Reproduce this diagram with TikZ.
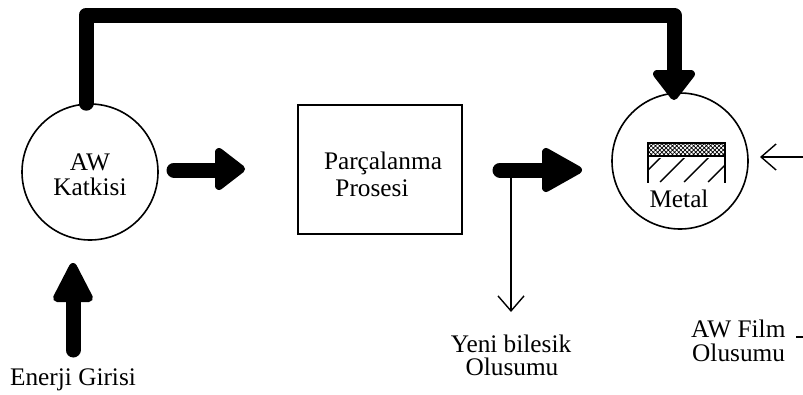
\documentclass[tikz,border=0pt]{standalone}
\usepackage{fontspec}
\setmainfont{Liberation Serif}
\usetikzlibrary{arrows.meta,patterns.meta,calc}
\begin{document}
\begin{tikzpicture}[x=1pt,y=-1pt,
  txt/.style={font=\fontsize{25.3pt}{30pt}\selectfont, inner sep=0pt, anchor=base},
  ring/.style={circle, draw, line width=1.6pt, minimum size=136pt, inner sep=0pt},
  procbox/.style={draw, line width=1.6pt, minimum width=164pt, minimum height=129pt, inner sep=0pt},
  shaft/.style={line width=15pt, line cap=round, line join=round},
  headtip/.style={fill=black, draw=black, line width=8pt, line join=round},
  thinline/.style={line width=1.4pt},
  barb/.style={-{Straight Barb[length=15pt,width=26pt]}}]
\useasboundingbox[fill=white] (0,0) rectangle (803,394);

% main shapes
\node[ring] (aw) at (90,172) {};
\node[ring] (metal) at (680,161) {};
\node[procbox] (proc) at (380,169.5) {};

% texts
\node[txt] (t1) at (90,170) {AW};
\node[txt] (t2) at (90,195) {Katkisi};
\node[txt] (t3) at (383,169) {Parçalanma};
\node[txt] (t4) at (372,196) {Prosesi};
\node[txt] (t5) at (679,207) {Metal};
\node[txt] (t6) at (511,352) {Yeni bilesik};
\node[txt] (t7) at (512,375) {Olusumu};
\node[txt, anchor=base west] (t8) at (691,337) {AW Film};
\node[txt, anchor=base west] (t9) at (692,361) {Olusumu};
\node[txt] (t10) at (73,385) {Enerji Girisi};

% top feedback connector
\coordinate (c1) at (86,15);
\coordinate (c2) at (674,15);
\coordinate (c3) at (674,80);
\draw[shaft] ($(aw.north)+(-4,0)$) -- (c1) -- (c2) -- (c3);
\filldraw[headtip] (657,74) -- (691,74) -- (674,96) -- cycle;

% arrow AW -> process
\coordinate (a1s) at (174,170);
\coordinate (a1e) at (225,170);
\draw[shaft] (a1s) -- (a1e);
\filldraw[headtip] (219,152) -- (219,186) -- (241,169) -- cycle;

% arrow process -> metal
\coordinate (a2s) at (500,170);
\coordinate (a2e) at (555,170);
\draw[shaft] (a2s) -- (a2e);
\filldraw[headtip] (546,152) -- (546,188) -- (578,170) -- cycle;

% thin down arrow
\coordinate (d1) at (511,170);
\coordinate (d2) at (511,312);
\draw[thinline,barb] (d1) -- (d2);

% energy arrow
\coordinate (e1) at (73,350);
\coordinate (e2) at (73,290);
\draw[shaft] (e1) -- (e2);
\filldraw[headtip] (57,298) -- (89,298) -- (73,267) -- cycle;

% right incoming arrow
\coordinate (r1) at (803,157);
\coordinate (r2) at (760,157);
\draw[thinline,barb] (r1) -- (r2);

% small dash at right edge
\draw[thinline] (796,337) -- (803,337);

% hatched metal block
\draw[line width=1.3pt, pattern={Hatch[angle=45,distance=3pt,line width=0.7pt]}] (648,143) rectangle (725,156);
\draw[thinline] (648,156) -- (648,183) (725,156) -- (725,183);
\begin{scope}
\clip (648,158) rectangle (725,182);
\foreach \x in {636,660,684,708} \draw[thinline] (\x,182) -- (\x+26,156);
\end{scope}
\end{tikzpicture}
\end{document}
